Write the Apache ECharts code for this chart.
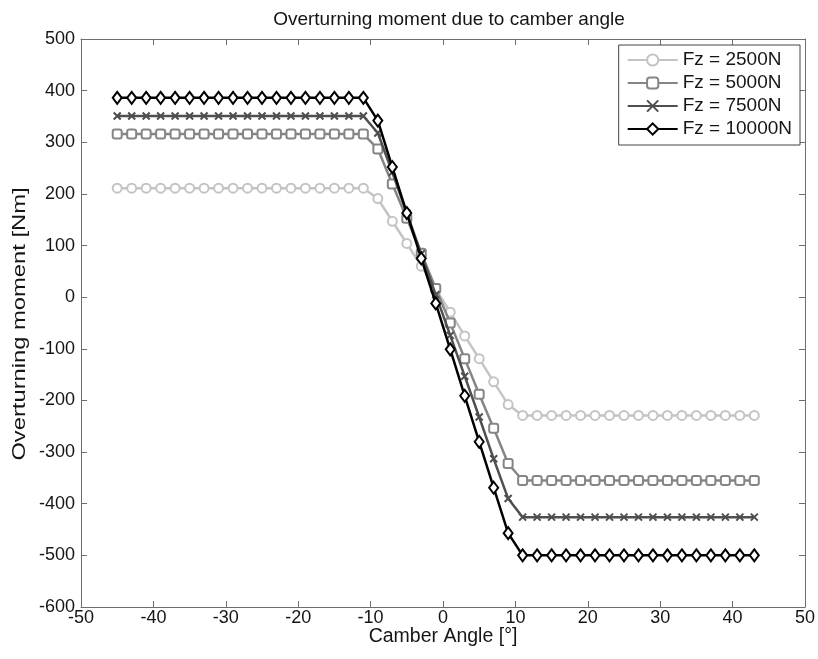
<!DOCTYPE html>
<html>
<head>
<meta charset="utf-8">
<script src="https://cdn.jsdelivr.net/npm/echarts@6/dist/echarts.min.js"></script>
<style>html,body{margin:0;padding:0;background:#fff}#c{width:818px;height:659px}</style>
</head>
<body>
<div id="c"></div>
<script>
const camber = [-45,-43,-41,-39,-37,-35,-33,-31,-29,-27,-25,-23,-21,-19,-17,-15,-13,-11,
  -9,-7,-5,-3,-1,1,3,5,7,9,
  11,13,15,17,19,21,23,25,27,29,31,33,35,37,39,41,43];
const fz2500 = [211,211,211,211,211,211,211,211,211,211,211,211,211,211,211,211,211,211,
  191,147,104,60,16,-29,-75,-119,-164,-208,
  -229,-229,-229,-229,-229,-229,-229,-229,-229,-229,-229,-229,-229,-229,-229,-229,-229];
const fz5000 = [316,316,316,316,316,316,316,316,316,316,316,316,316,316,316,316,316,316,
  287,219,153,85,17,-50,-119,-188,-254,-322,
  -355,-355,-355,-355,-355,-355,-355,-355,-355,-355,-355,-355,-355,-355,-355,-355,-355];
const fz7500 = [351,351,351,351,351,351,351,351,351,351,351,351,351,351,351,351,351,351,
  318,242,163,84,5,-74,-153,-232,-313,-390,
  -426,-426,-426,-426,-426,-426,-426,-426,-426,-426,-426,-426,-426,-426,-426,-426,-426];
const fz10000 = [386,386,386,386,386,386,386,386,386,386,386,386,386,386,386,386,386,386,
  342,252,163,75,-12,-101,-191,-280,-369,-457,
  -500,-500,-500,-500,-500,-500,-500,-500,-500,-500,-500,-500,-500,-500,-500,-500,-500];
const seriesNames = ['Fz = 2500N','Fz = 5000N','Fz = 7500N','Fz = 10000N'];
const titleText = 'Overturning moment due to camber angle';
const xName = 'Camber Angle [°]';
const yName = 'Overturning moment [Nm]';

const chart = echarts.init(document.getElementById('c'), null, {renderer:'canvas'});
const font = 'Liberation Sans, Arial, sans-serif';
const axisCol = '#6e6e6e';
const txtCol = '#151515';
function pairs(ys){ return camber.map((x,i)=>[x, ys[i]]); }
const xPath = 'path://M0,0L10,10M10,0L0,10';
function mk(name, ys, color, symbol, size, z){
  return {
    name, type:'line', data:pairs(ys), xAxisIndex:0, yAxisIndex:0,
    symbol, symbolSize:size, showAllSymbol:true, z,
    lineStyle:{color, width:2.5},
    itemStyle:{color:'#fff', borderColor:color, borderWidth:2},
    emphasis:{disabled:true}, animation:false
  };
}
function baseAxis(){
  return {
    axisLine:{show:true, onZero:false, lineStyle:{color:axisCol, width:1}},
    axisTick:{show:true, inside:true, length:6, lineStyle:{color:axisCol}},
    splitLine:{show:false}
  };
}
chart.setOption({
  animation:false,
  backgroundColor:'#fff',
  title:{text:titleText, left:444, top:5, textAlign:'center',
    textStyle:{fontFamily:font, fontSize:19, fontWeight:'normal', color:txtCol}},
  grid:{left:81, right:13, top:39, bottom:52, containLabel:false},
  legend:{
    orient:'vertical', right:18, top:45, data:seriesNames,
    backgroundColor:'#fff', borderColor:'#444', borderWidth:1,
    padding:[5,8,6,8], itemGap:3, itemWidth:50, itemHeight:14,
    textStyle:{fontFamily:font, fontSize:19, color:txtCol, lineHeight:20}
  },
  xAxis:[
    Object.assign(baseAxis(), {type:'value', min:-50, max:50, interval:10, position:'bottom',
      axisLabel:{fontFamily:font, fontSize:18, color:txtCol, margin:2}}),
    Object.assign(baseAxis(), {type:'value', min:-50, max:50, interval:10, position:'top',
      axisLabel:{show:false}})
  ],
  yAxis:[
    Object.assign(baseAxis(), {type:'value', min:-600, max:500, interval:100, position:'left',
      axisLabel:{fontFamily:font, fontSize:18, color:txtCol, margin:6}}),
    Object.assign(baseAxis(), {type:'value', min:-600, max:500, interval:100, position:'right',
      axisLabel:{show:false}})
  ],
  graphic:[
    {type:'text', x:443, y:637, style:{text:xName, font:'19.5px ' + font, fill:txtCol,
      textAlign:'center', textVerticalAlign:'middle'}},
    {type:'text', x:20, y:324, rotation:Math.PI/2, scaleX:1.25,
      style:{text:yName, font:'19px ' + font, fill:txtCol,
      textAlign:'center', textVerticalAlign:'middle'}}
  ],
  series:[
    mk(seriesNames[0], fz2500, '#c4c4c4', 'circle', 9, 2),
    mk(seriesNames[1], fz5000, '#858585', 'roundRect', 9, 3),
    mk(seriesNames[2], fz7500, '#4f4f4f', xPath, 7, 4),
    mk(seriesNames[3], fz10000, '#000000', 'diamond', [9,12], 5)
  ]
});
</script>
</body>
</html>
